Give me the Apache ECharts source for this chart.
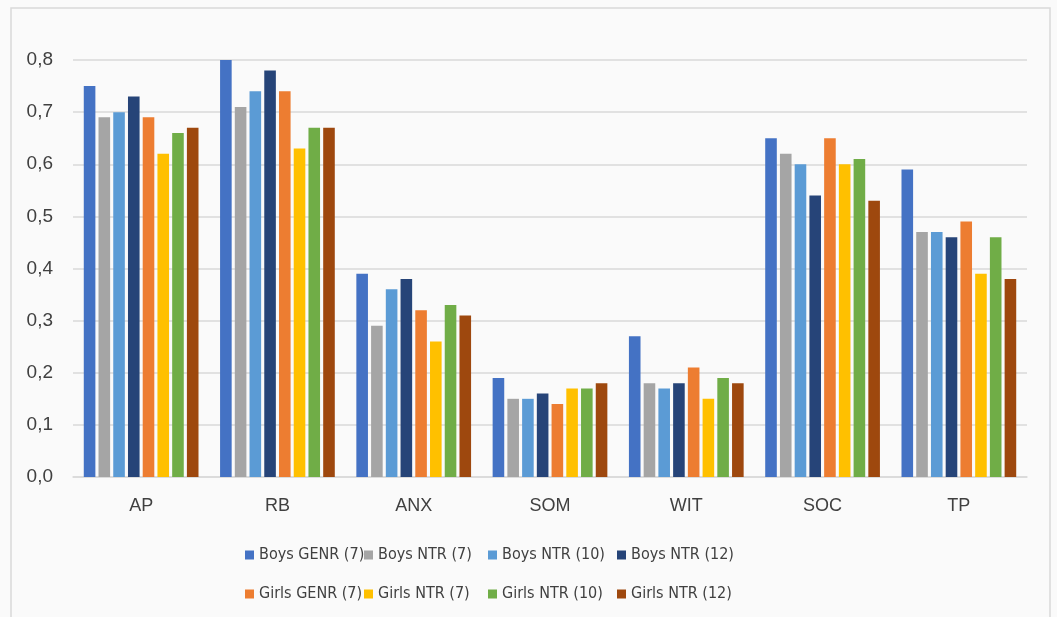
<!DOCTYPE html>
<html>
<head>
<meta charset="utf-8">
<script src="https://cdn.jsdelivr.net/npm/echarts@6/dist/echarts.min.js"></script>
<style>
html,body{margin:0;padding:0;background:#fafafa;}
#chart{width:1057px;height:617px;}
</style>
</head>
<body>
<div id="chart"></div>
<script>
const categories = ['AP', 'RB', 'ANX', 'SOM', 'WIT', 'SOC', 'TP'];
const seriesNames = ['Boys GENR (7)', 'Boys NTR (7)', 'Boys NTR (10)', 'Boys NTR (12)',
                     'Girls GENR (7)', 'Girls NTR (7)', 'Girls NTR (10)', 'Girls NTR (12)'];
const boysGenr7  = [0.75, 0.80, 0.39, 0.19, 0.27, 0.65, 0.59];
const boysNtr7   = [0.69, 0.71, 0.29, 0.15, 0.18, 0.62, 0.47];
const boysNtr10  = [0.70, 0.74, 0.36, 0.15, 0.17, 0.60, 0.47];
const boysNtr12  = [0.73, 0.78, 0.38, 0.16, 0.18, 0.54, 0.46];
const girlsGenr7 = [0.69, 0.74, 0.32, 0.14, 0.21, 0.65, 0.49];
const girlsNtr7  = [0.62, 0.63, 0.26, 0.17, 0.15, 0.60, 0.39];
const girlsNtr10 = [0.66, 0.67, 0.33, 0.17, 0.19, 0.61, 0.46];
const girlsNtr12 = [0.67, 0.67, 0.31, 0.18, 0.18, 0.53, 0.38];
const yTicks = [0, 0.1, 0.2, 0.3, 0.4, 0.5, 0.6, 0.7, 0.8];

const allData = [boysGenr7, boysNtr7, boysNtr10, boysNtr12, girlsGenr7, girlsNtr7, girlsNtr10, girlsNtr12];
const colors = ['#4472C4', '#A5A5A5', '#5B9BD5', '#264478', '#ED7D31', '#FFC000', '#70AD47', '#9E480E'];

const chart = echarts.init(document.getElementById('chart'));
const font = 'Liberation Sans';
const narrow = "'DejaVu Sans Condensed', 'Liberation Sans', sans-serif";
const legendCols = [245, 364, 488, 617];
const legends = legendCols.map((x, i) => ({
  orient: 'vertical',
  left: x,
  top: 545,
  padding: 0,
  itemWidth: 9,
  itemHeight: 9,
  itemGap: 19,
  icon: 'rect',
  data: [seriesNames[i], seriesNames[i + 4]],
  textStyle: { fontFamily: narrow, fontSize: 16, color: '#404040', lineHeight: 20 },
  selectedMode: false
}));

chart.setOption({
  backgroundColor: '#fafafa',
  animation: false,
  color: colors,
  graphic: [{
    type: 'rect',
    shape: { x: 11, y: 8, width: 1039, height: 620 },
    style: { fill: 'none', stroke: '#d9d9d9', lineWidth: 1.5 },
    silent: true
  }],
  grid: { left: 73, right: 30, top: 60, bottom: 140, containLabel: false },
  legend: legends,
  xAxis: {
    type: 'category',
    data: categories,
    axisTick: { show: false },
    axisLine: { lineStyle: { color: '#d9d9d9', width: 1.5 } },
    axisLabel: { fontFamily: font, fontSize: 18, color: '#404040', margin: 20 }
  },
  yAxis: {
    type: 'value',
    min: 0,
    max: 0.8,
    interval: 0.1,
    axisLine: { show: false },
    axisTick: { show: false },
    splitLine: { lineStyle: { color: '#d9d9d9', width: 1.5 } },
    axisLabel: {
      fontFamily: font, fontSize: 19, color: '#404040', margin: 20,
      formatter: v => {
        const t = yTicks.find(k => Math.abs(k - v) < 1e-9);
        return (t !== undefined ? t : v).toFixed(1).replace('.', ',');
      }
    }
  },
  series: allData.map((d, i) => ({
    name: seriesNames[i],
    type: 'bar',
    data: d,
    barWidth: 11.6,
    barGap: '27%',
    itemStyle: { color: colors[i] }
  }))
});
</script>
</body>
</html>
